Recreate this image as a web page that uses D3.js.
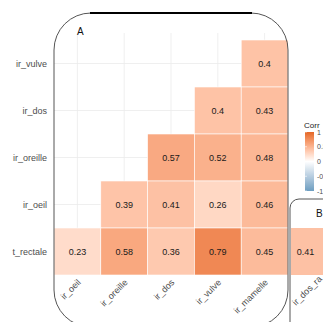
<!DOCTYPE html>
<html><head><meta charset="utf-8">
<script src="https://cdn.jsdelivr.net/npm/d3@7"></script>
<style>body{margin:0;background:#fff}svg{display:block}text{font-family:"Liberation Sans",Arial,sans-serif}</style>
</head><body>
<svg id="c" width="323" height="322"></svg>
<script>
const columns = ["ir_oeil","ir_oreille","ir_dos","ir_vulve","ir_mamelle"];
const rows = ["ir_vulve","ir_dos","ir_oreille","ir_oeil","t_rectale"];
const rowVulve   = [null,null,null,null,0.4];
const rowDos     = [null,null,null,0.4,0.43];
const rowOreille = [null,null,0.57,0.52,0.48];
const rowOeil    = [null,0.39,0.41,0.26,0.46];
const rowRectale = [0.23,0.58,0.36,0.79,0.45];
const panelBColumns = ["ir_dos_ra"];
const panelBValues = [0.41];
const legendTicks = [1,0.5,0,-0.5,-1];
const legendTickLabels = ["1","0.5","0","-0.5","-1"];

const matrix = [rowVulve,rowDos,rowOreille,rowOeil,rowRectale];
const svg = d3.select("#c");
const color = d3.scaleLinear().domain([-1,0,1]).range(["#6D9EC1","#ffffff","#E46726"]).interpolate(d3.interpolateLab);

const x = d3.scaleBand().domain(columns).range([54,288]).padding(0);
const y = d3.scaleBand().domain(rows).range([40,275]).padding(0);

// grid
const g = svg.append("g");
g.selectAll(".vg").data(columns).join("line")
  .attr("x1",d=>x(d)+x.bandwidth()/2).attr("x2",d=>x(d)+x.bandwidth()/2)
  .attr("y1",33).attr("y2",275).attr("stroke","#ebebeb").attr("stroke-width",0.8);
g.selectAll(".hg").data(rows).join("line")
  .attr("y1",d=>y(d)+y.bandwidth()/2).attr("y2",d=>y(d)+y.bandwidth()/2)
  .attr("x1",54).attr("x2",288).attr("stroke","#ebebeb").attr("stroke-width",0.8);

const cells = [];
matrix.forEach((r,i)=>r.forEach((v,j)=>{ if(v!==null) cells.push({row:rows[i],col:columns[j],v}); }));
g.selectAll("rect.cell").data(cells).join("rect")
  .attr("x",d=>x(d.col)).attr("y",d=>y(d.row))
  .attr("width",x.bandwidth()).attr("height",y.bandwidth())
  .attr("fill",d=>color(d.v)).attr("stroke","#fff").attr("stroke-width",0.6);
g.selectAll("text.val").data(cells).join("text")
  .attr("x",d=>x(d.col)+x.bandwidth()/2).attr("y",d=>y(d.row)+y.bandwidth()/2+3.3)
  .attr("text-anchor","middle").attr("font-size",9).attr("fill","#1a1a1a").text(d=>d.v);

// y labels
svg.selectAll("text.yl").data(rows).join("text")
  .attr("x",47).attr("y",d=>y(d)+y.bandwidth()/2+3.3)
  .attr("text-anchor","end").attr("font-size",9).attr("fill","#4d4d4d").text(d=>d);
// x labels
svg.selectAll("text.xl").data(columns).join("text")
  .attr("transform",d=>`translate(${x(d)+x.bandwidth()/2+4},${283}) rotate(-45)`)
  .attr("text-anchor","end").attr("font-size",9).attr("fill","#4d4d4d").text(d=>d);

// panel A frame
svg.append("rect").attr("x",54).attr("y",13).attr("width",234).attr("height",314)
  .attr("rx",37).attr("fill","none").attr("stroke","#555").attr("stroke-width",1);
svg.append("line").attr("x1",90).attr("x2",252).attr("y1",13).attr("y2",13)
  .attr("stroke","#000").attr("stroke-width",2.2);
svg.append("text").attr("x",77).attr("y",35).attr("font-size",10).attr("fill","#111").text("A");

// panel B (partially visible)
const xb = d3.scaleBand().domain(panelBColumns).range([291,338]);
svg.append("rect").attr("x",290).attr("y",199).attr("width",80).attr("height",140)
  .attr("rx",9).attr("fill","#fff").attr("stroke","#555").attr("stroke-width",1);
svg.selectAll("rect.b").data(panelBValues).join("rect")
  .attr("x",(d,i)=>xb(panelBColumns[i])).attr("y",y("t_rectale"))
  .attr("width",xb.bandwidth()).attr("height",y.bandwidth()).attr("fill",d=>color(d));
svg.selectAll("text.bv").data(panelBValues).join("text")
  .attr("x",(d,i)=>xb(panelBColumns[i])+xb.bandwidth()/2-9).attr("y",y("t_rectale")+y.bandwidth()/2+3.3)
  .attr("text-anchor","middle").attr("font-size",9).attr("fill","#1a1a1a").text(d=>d);
svg.selectAll("text.bx").data(panelBColumns).join("text")
  .attr("transform",`translate(${296},${306}) rotate(-45)`)
  .attr("font-size",9).attr("fill","#4d4d4d").text(d=>d);
svg.append("text").attr("x",316).attr("y",217).attr("font-size",10).attr("fill","#111").text("B");

// legend
svg.append("text").attr("x",304).attr("y",128).attr("font-size",8).attr("fill","#222").text("Corr");
const ly = d3.scaleLinear().domain([1,-1]).range([132,191]);
const defs = svg.append("defs");
const grad = defs.append("linearGradient").attr("id","lg").attr("x1",0).attr("x2",0).attr("y1",0).attr("y2",1);
d3.range(0,21).forEach(i=>{const v=1-i/10; grad.append("stop").attr("offset",(i/20)).attr("stop-color",color(v));});
svg.append("rect").attr("x",305).attr("y",ly(1)).attr("width",9).attr("height",ly(-1)-ly(1)).attr("fill","url(#lg)");
svg.selectAll("line.lt").data(legendTicks).join("line")
  .attr("x1",305).attr("x2",307).attr("y1",d=>ly(d)).attr("y2",d=>ly(d)).attr("stroke","#fff").attr("stroke-width",0.6);
svg.selectAll("text.ltl").data(legendTicks).join("text")
  .attr("x",317).attr("y",d=>ly(d)+2.5).attr("font-size",7).attr("fill","#4d4d4d")
  .text((d,i)=>legendTickLabels[i]);
</script>
</body></html>
